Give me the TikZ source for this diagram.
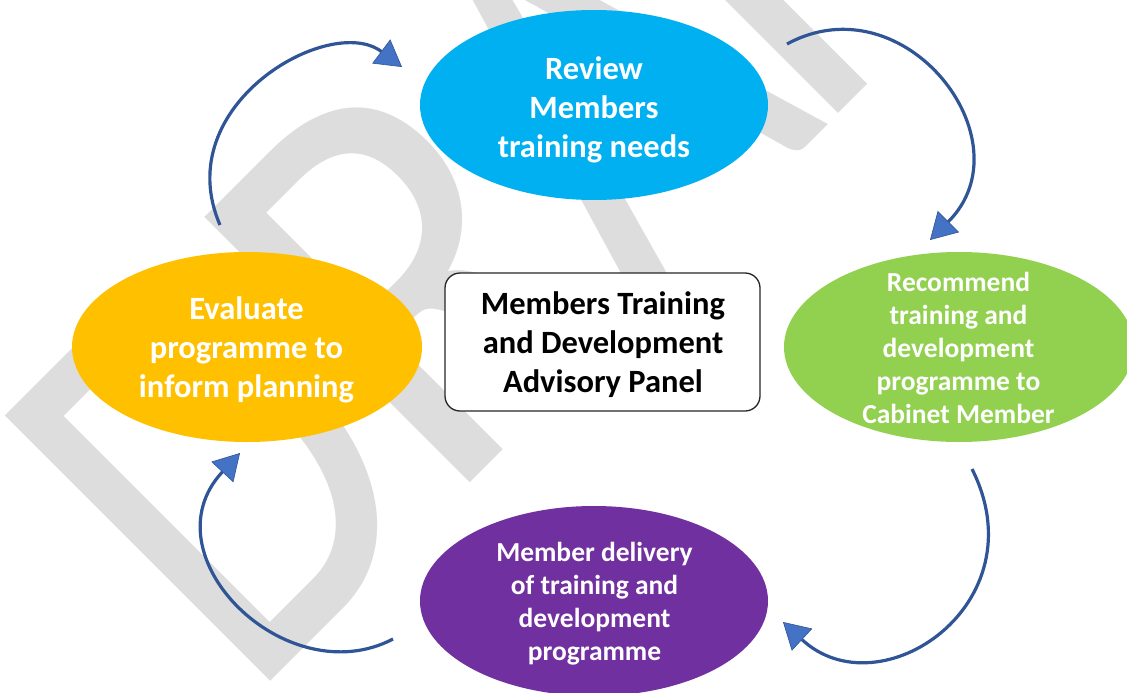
\documentclass[tikz,border=0pt]{standalone}
\usepackage{fontspec}
\setmainfont{Carlito}
\usetikzlibrary{shapes.geometric,arrows.meta}
\definecolor{wm}{RGB}{221,221,221}
\definecolor{cblue}{RGB}{0,176,240}
\definecolor{cyellow}{RGB}{255,192,0}
\definecolor{cgreen}{RGB}{146,208,80}
\definecolor{cpurple}{RGB}{112,48,160}
\definecolor{aline}{RGB}{47,85,151}
\definecolor{afill}{RGB}{68,114,196}
\tikzset{
  wmstyle/.style={rotate=45, anchor=base west, inner sep=0pt, outer sep=0pt, text=wm,
    font=\fontsize{585}{600}\selectfont},
  blob/.style={ellipse, minimum width=348pt, minimum height=190pt, inner sep=0pt, draw=none},
  bigtxt/.style={font=\bfseries\fontsize{32.5}{39}\selectfont, align=center, inner sep=0pt},
  smalltxt/.style={font=\bfseries\fontsize{27.5}{33}\selectfont, align=center, inner sep=0pt, text=white},
  panel/.style={draw=black!85, line width=1.3pt, fill=white, rounded corners=15pt,
    minimum width=315pt, minimum height=138pt, inner sep=0pt},
  cyc/.style={draw=aline, line width=3.2pt,
    -{Triangle[length=26pt,width=30pt,fill=afill,line width=0.6pt]}}
}
\begin{document}
\begin{tikzpicture}[x=1pt,y=-1pt]
\useasboundingbox (0,0) rectangle (1127,693);
\fill[white] (0,0) rectangle (1127,693);
% watermark
\node[wmstyle] (wmark) at (248.75,703.75)
  {\scalebox{0.79}[1]{D}\kern-9.5pt\scalebox{0.9}[1]{R}\kern-7pt\scalebox{0.79}[1]{A}\kern-18pt\scalebox{0.79}[1]{FT}};
% ellipses
\node[blob, fill=cblue] (review) at (594,105) {};
\node[blob, fill=cyellow, minimum width=350pt] (evaluate) at (247,347) {};
\node[blob, fill=cgreen, minimum width=350pt] (recommend) at (959,347) {};
\node[blob, fill=cpurple] (delivery) at (594,601) {};
\node[panel] (panelbox) at (602.5,342) {};
% texts
\node[bigtxt, text=white] (reviewtxt) at (594,110) {Review\\Members\\training needs};
\node[bigtxt, text=white] (evaluatetxt) at (246.5,350) {Evaluate\\programme to\\inform planning};
\node[bigtxt, text=black] (paneltxt) at (603,345) {Members Training\\and Development\\Advisory Panel};
\node[smalltxt] (recommendtxt) at (958.5,347.5) {Recommend\\training and\\development\\programme to\\Cabinet Member};
\node[smalltxt] (deliverytxt) at (594.5,604) {Member delivery\\of training and\\development\\programme};
% arrow end points
\coordinate (a1s) at (220,225);
\coordinate (a1e) at (402,67);
\coordinate (a2s) at (787,44);
\coordinate (a2e) at (930,240);
\coordinate (a3s) at (972,469);
\coordinate (a3e) at (783,622);
\coordinate (a4s) at (393,639);
\coordinate (a4e) at (240,453);
\draw[cyc] (a1s) .. controls (168,105) and (330,13) .. (a1e);
\draw[cyc] (a2s) .. controls (905,-20) and (1029,141) .. (a2e);
\draw[cyc] (a3s) .. controls (1040,604) and (880,712) .. (a3e);
\draw[cyc] (a4s) .. controls (286,695) and (145,555) .. (a4e);
\end{tikzpicture}
\end{document}
